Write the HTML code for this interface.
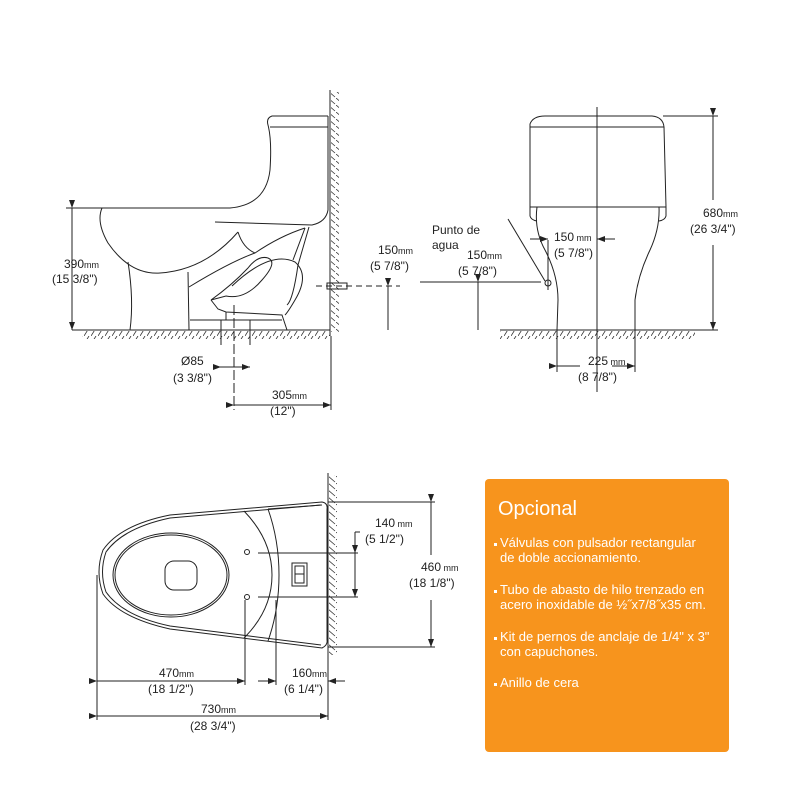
<!DOCTYPE html>
<html><head><meta charset="utf-8"><style>
html,body{margin:0;padding:0;background:#fff;}
svg{display:block}
text{font-family:"Liberation Sans",Arial,sans-serif;fill:#222;font-size:12px}
.s{font-size:9px}
</style></head><body>
<svg width="800" height="800" viewBox="0 0 800 800" xmlns="http://www.w3.org/2000/svg">
<defs>
<pattern id="hf" width="7" height="8" patternUnits="userSpaceOnUse"><line x1="0" y1="8" x2="5" y2="0" stroke="#333" stroke-width="0.8"/></pattern>
<pattern id="hw" width="8" height="7" patternUnits="userSpaceOnUse"><line x1="0" y1="0" x2="7" y2="6" stroke="#333" stroke-width="0.8"/></pattern>
<marker id="a" markerWidth="8" markerHeight="6" refX="8" refY="3" orient="auto" markerUnits="userSpaceOnUse"><path d="M0,0 L8,3 L0,6 z" fill="#222"/></marker>
</defs>
<g stroke="#222" stroke-width="1" fill="none">
<!-- SIDE VIEW -->
<line x1="330" y1="90" x2="330" y2="336"/>
<rect x="331" y="92" width="8" height="240" fill="url(#hw)" stroke="none"/>
<line x1="72" y1="330" x2="330" y2="330"/>
<rect x="82" y="331" width="248" height="8" fill="url(#hf)" stroke="none"/>
<path d="M328,116 L272,116 Q266,118 268,125 Q272,140 270,170 Q266,205 230,208 L102,208"/>
<line x1="270" y1="127" x2="328" y2="127"/>
<path d="M328,116 L328,210 Q326,222 312,225 L215,222"/>
<path d="M102,208 Q96,222 108,243 Q130,275 160,273 Q205,270 238,232"/>
<path d="M128,262 Q134,300 130,330"/>
<path d="M188,272 L189,330"/>
<path d="M238,232 Q243,248 255,253"/>
<path d="M189,287 Q230,262 255,253 Q280,236 305,228"/>
<path d="M305,228 L293,260 M309,227 L298,265 M298,265 Q293,300 287,305"/>
<path d="M232,286 Q270,250 295,262 Q310,275 295,300 Q288,312 285,315"/>
<path d="M211,300 L226,296 Q245,300 262,280 Q278,262 268,258 Q258,255 248,268 Q232,285 211,300 Z"/>
<path d="M211,300 L218,309 L226,312 L282,315 L287,330"/>
<line x1="190" y1="320" x2="282" y2="320"/>
<path d="M226,312 L226,320"/>
<rect x="327" y="283" width="20" height="6"/>
<line x1="316" y1="286" x2="400" y2="286" stroke-dasharray="6,4"/>
<line x1="66" y1="208" x2="102" y2="208"/>
<line x1="72" y1="208" x2="72" y2="330" marker-start="url(#a)" marker-end="url(#a)"/>
<line x1="388" y1="286" x2="388" y2="330" marker-start="url(#a)"/>
<line x1="221" y1="320" x2="221" y2="345"/>
<line x1="250" y1="320" x2="250" y2="345"/>
<line x1="234" y1="305" x2="234" y2="410" stroke-dasharray="10,3"/>
<line x1="213" y1="367" x2="221" y2="367" />
<line x1="221" y1="367" x2="250" y2="367" marker-start="url(#a)" marker-end="url(#a)"/>
<line x1="331" y1="336" x2="331" y2="410"/>
<line x1="234" y1="405" x2="331" y2="405" marker-start="url(#a)" marker-end="url(#a)"/>

<!-- FRONT VIEW -->
<line x1="500" y1="330" x2="695" y2="330"/>
<rect x="500" y="331" width="195" height="8" fill="url(#hf)" stroke="none"/>
<line x1="597" y1="107" x2="597" y2="392"/>
<path d="M530,127 L530,124 Q533,116 545,116 L652,116 Q663,117 664,127 Z"/>
<path d="M530,127 L530,207 L666,207 L664,127"/>
<path d="M530,207 L530,216 Q531,220 537,221 M666,207 L666,216 Q665,220 659,221"/>
<path d="M537,207 Q534,230 545,250 Q558,275 558,300 L557,330"/>
<path d="M659,207 Q660,228 650,250 Q638,275 635,300 L635,330"/>
<circle cx="548" cy="283" r="3"/>
<line x1="420" y1="282" x2="541" y2="282"/>
<line x1="478" y1="282" x2="478" y2="330" marker-start="url(#a)"/>
<line x1="508" y1="219" x2="545" y2="281"/>
<line x1="548" y1="240" x2="548" y2="290"/>
<line x1="530" y1="239" x2="548" y2="239" marker-end="url(#a)"/>
<line x1="615" y1="239" x2="597" y2="239" marker-end="url(#a)"/>
<line x1="663" y1="116" x2="718" y2="116"/>
<line x1="713" y1="116" x2="713" y2="200" marker-start="url(#a)"/>
<line x1="713" y1="245" x2="713" y2="330" marker-end="url(#a)"/>
<line x1="695" y1="330" x2="718" y2="330"/>
<line x1="557" y1="330" x2="557" y2="372"/>
<line x1="635" y1="330" x2="635" y2="372"/>
<line x1="557" y1="366" x2="580" y2="366" marker-start="url(#a)"/>
<line x1="612" y1="366" x2="635" y2="366" marker-end="url(#a)"/>

<!-- TOP VIEW -->
<line x1="328" y1="473" x2="328" y2="658"/>
<rect x="329" y="475" width="8" height="180" fill="url(#hw)" stroke="none"/>
<path d="M322,502 L170,515 Q120,525 103,550 Q95,572 103,594 Q120,618 170,629 L322,648 Q328,645 327,640 L327,509 Q328,503 322,502 Z"/>
<path d="M321,505 L170,518 Q123,528 106,552 Q99,572 106,592 Q123,616 170,626 L321,645"/>
<ellipse cx="171" cy="575" rx="58" ry="42"/>
<ellipse cx="171" cy="575" rx="56" ry="40"/>
<rect x="165" y="561" width="32" height="29" rx="9"/>
<path d="M244,511 Q272,540 272,575 Q272,610 244,638"/>
<path d="M268,509 Q279,540 279,575 Q279,610 268,641"/>
<line x1="268" y1="509" x2="322" y2="505"/>
<circle cx="247" cy="552" r="2.5"/>
<circle cx="247" cy="597" r="2.5"/>
<rect x="292" y="563" width="15" height="23"/>
<rect x="295" y="566" width="9" height="17"/>
<line x1="295" y1="574" x2="304" y2="574"/>
<line x1="258" y1="553" x2="358" y2="553"/>
<line x1="258" y1="597" x2="358" y2="597"/>
<line x1="355" y1="532" x2="355" y2="597" marker-end="url(#a)"/>
<line x1="355" y1="532" x2="355" y2="553" marker-end="url(#a)"/>
<line x1="355" y1="532" x2="360" y2="532"/>
<line x1="328" y1="502" x2="435" y2="502"/>
<line x1="328" y1="647" x2="435" y2="647"/>
<line x1="431" y1="502" x2="431" y2="555" marker-start="url(#a)"/>
<line x1="431" y1="600" x2="431" y2="647" marker-end="url(#a)"/>
<line x1="97" y1="575" x2="97" y2="720"/>
<line x1="245" y1="600" x2="245" y2="685"/>
<line x1="276" y1="600" x2="276" y2="685"/>
<line x1="97" y1="681" x2="245" y2="681" marker-start="url(#a)" marker-end="url(#a)"/>
<line x1="258" y1="681" x2="276" y2="681" marker-end="url(#a)"/>
<line x1="345" y1="681" x2="328" y2="681" marker-end="url(#a)"/>
<line x1="328" y1="658" x2="328" y2="720"/>
<line x1="97" y1="716" x2="328" y2="716" marker-start="url(#a)" marker-end="url(#a)"/>
</g>
<text x="64" y="268">390<tspan class="s">mm</tspan></text>
<text x="52" y="283">(15 3/8")</text>
<text x="378" y="254">150<tspan class="s">mm</tspan></text>
<text x="370" y="270">(5 7/8")</text>
<text x="181" y="365">Ø85</text>
<text x="173" y="382">(3 3/8")</text>
<text x="272" y="399">305<tspan class="s">mm</tspan></text>
<text x="270" y="415">(12")</text>
<text x="432" y="234">Punto de</text>
<text x="432" y="249">agua</text>
<text x="467" y="259">150<tspan class="s">mm</tspan></text>
<text x="458" y="275">(5 7/8")</text>
<text x="554" y="241">150<tspan class="s"> mm</tspan></text>
<text x="554" y="257">(5 7/8")</text>
<text x="703" y="217">680<tspan class="s">mm</tspan></text>
<text x="690" y="233">(26 3/4")</text>
<text x="588" y="365">225<tspan class="s"> mm</tspan></text>
<text x="578" y="381">(8 7/8")</text>
<text x="375" y="527">140<tspan class="s"> mm</tspan></text>
<text x="365" y="543">(5 1/2")</text>
<text x="421" y="571">460<tspan class="s"> mm</tspan></text>
<text x="409" y="587">(18 1/8")</text>
<text x="159" y="677">470<tspan class="s">mm</tspan></text>
<text x="148" y="693">(18 1/2")</text>
<text x="292" y="677">160<tspan class="s">mm</tspan></text>
<text x="284" y="693">(6 1/4")</text>
<text x="201" y="713">730<tspan class="s">mm</tspan></text>
<text x="190" y="730">(28 3/4")</text>
<rect x="485" y="479" width="244" height="273" rx="4" fill="#F7941D"/>
<text x="498" y="515" style="font-size:20px;fill:#fff">Opcional</text>
<g style="font-size:13px">
<text x="500" y="547" style="fill:#fff;font-size:13px">Válvulas con pulsador rectangular</text>
<text x="500" y="562" style="fill:#fff;font-size:13px">de doble accionamiento.</text>
<text x="500" y="594" style="fill:#fff;font-size:13px">Tubo de abasto de hilo trenzado en</text>
<text x="500" y="609" style="fill:#fff;font-size:13px">acero inoxidable de  ½˝x7/8˝x35 cm.</text>
<text x="500" y="641" style="fill:#fff;font-size:13px">Kit de pernos de anclaje de 1/4" x 3"</text>
<text x="500" y="656" style="fill:#fff;font-size:13px">con capuchones.</text>
<text x="500" y="687" style="fill:#fff;font-size:13px">Anillo de cera</text>
</g>
<rect x="494" y="543" width="3" height="3" fill="#fff"/>
<rect x="494" y="590" width="3" height="3" fill="#fff"/>
<rect x="494" y="637" width="3" height="3" fill="#fff"/>
<rect x="494" y="683" width="3" height="3" fill="#fff"/>
</svg>
</body></html>
